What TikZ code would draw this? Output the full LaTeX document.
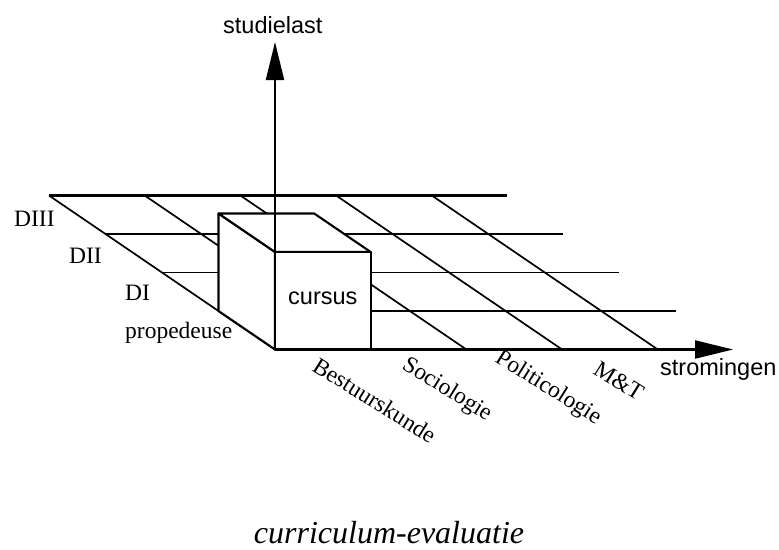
\documentclass[tikz,border=0pt]{standalone}
\usepackage{fontspec}
\setmainfont{Liberation Serif}
\newfontfamily\hvfont{Liberation Sans}
\usetikzlibrary{arrows.meta}
\begin{document}
\begin{tikzpicture}[x=1pt,y=-1pt,
  gridline/.style={line width=1.7pt},
  backline/.style={line width=2.4pt},
  boxface/.style={line width=2.1pt, fill=white, line join=round},
  axisline/.style={line width=2.1pt, -{Triangle[length=38pt,width=18pt]}},
  lab/.style={font=\fontsize{23.5}{28}\selectfont, inner sep=0pt, anchor=base west},
  sanslab/.style={font=\hvfont\fontsize{23.5}{28}\selectfont, inner sep=0pt, anchor=base west},
  rotlab/.style={lab, rotate=-32}]
\useasboundingbox (0,0) rectangle (779,549);
\fill[white] (0,0) rectangle (779,549);
% grid rows
\foreach \k in {1,2,3} {
  \draw[gridline] ({275-56.5*\k},{349.5-38.5*\k}) -- ++(457,0);
}
\draw[backline] (49,195.5) -- ++(458,0);
% diagonals
\foreach \k in {0,...,4} {
  \draw[gridline] ({275+95.7*\k},349.5) -- ++(-226,-154);
}
% box
\filldraw[boxface] (218.5,311) -- (218.5,213.5) -- (275,252) -- (275,349.5) -- cycle;
\filldraw[boxface] (218.5,213.5) -- (314.2,213.5) -- (370.7,252) -- (275,252) -- cycle;
\filldraw[boxface] (275,252) rectangle (370.7,349.5);
% axes
\coordinate (O) at (275,349.5);
\coordinate (ytip) at (275,42);
\coordinate (xtip) at (733,349.5);
\draw[axisline] (O) -- (ytip);
\draw[axisline] (O) -- (xtip);
% labels
\node[sanslab] (sl) at (223,33) {studielast};
\node[sanslab] (st) at (660,375) {stromingen};
\node[sanslab] (cu) at (288,304) {cursus};
\node[lab] (d3) at (14,226) {DIII};
\node[lab] (d2) at (69,263) {DII};
\node[lab] (d1) at (125,300) {DI};
\node[lab] (pr) at (125,338) {propedeuse};
\node[rotlab] (be) at (311,370) {Bestuurskunde};
\node[rotlab] (so) at (401,368) {Sociologie};
\node[rotlab] (po) at (494,361) {Politicologie};
\node[rotlab] (mt) at (592,373) {M\&T};
\node[font=\itshape\fontsize{32}{38}\selectfont, inner sep=0pt, anchor=base] (ti) at (389,543) {curriculum-evaluatie};
\end{tikzpicture}
\end{document}
